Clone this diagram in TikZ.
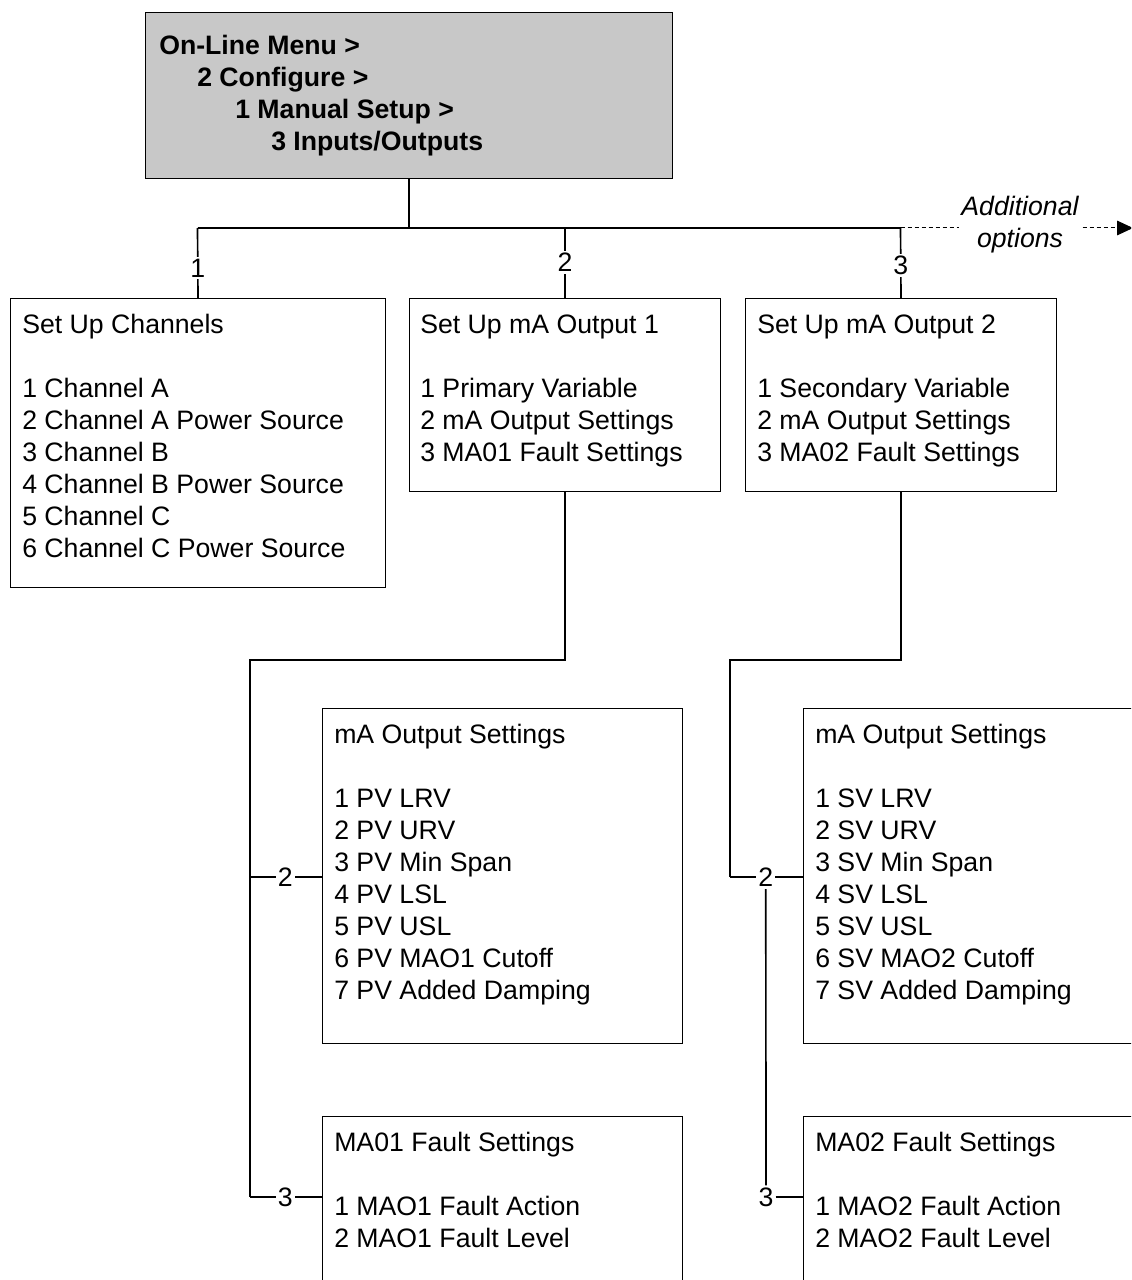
\documentclass[tikz,border=0pt]{standalone}
\usepackage{fontspec}
\setmainfont{Liberation Sans}
\usetikzlibrary{arrows.meta}
\definecolor{menugray}{RGB}{200,200,200}
\begin{document}
\begin{tikzpicture}[x=0.75pt,y=-0.75pt,
  box/.style={draw, line width=0.75pt, inner sep=0pt, anchor=north west},
  txt/.style={anchor=north west, inner sep=0pt, align=left, font=\fontsize{20}{24}\selectfont},
  conn/.style={line width=1.25pt},
  lbl/.style={fill=white, inner sep=1.5pt, font=\fontsize{20}{24}\selectfont},
  addl/.style={fill=white, inner sep=2pt, align=center, font=\fontsize{20}{24}\selectfont\itshape}]
\clip (0,0) rectangle (1131,1280);
\fill[white] (0,0) rectangle (1131,1280);

% boxes
\node[box, fill=menugray, minimum width=395.25pt, minimum height=124.5pt] (menu) at (145,12) {};
\node[box, minimum width=281.25pt, minimum height=216.75pt] (b1) at (10,298) {};
\node[box, minimum width=233.25pt, minimum height=144.75pt] (b2) at (409,298) {};
\node[box, minimum width=233.25pt, minimum height=144.75pt] (b3) at (745,298) {};
\node[box, minimum width=270pt, minimum height=251.25pt] (b4) at (322,708) {};
\node[box, minimum width=300pt, minimum height=251.25pt] (b5) at (803,708) {};
\node[box, minimum width=270pt, minimum height=150pt] (b6) at (322,1116) {};
\node[box, minimum width=300pt, minimum height=150pt] (b7) at (803,1116) {};

% texts
\node[txt, font=\fontsize{20}{24}\selectfont\bfseries] (tmenu) at (159,32)
  {\strut On-Line Menu >\\
   \hspace*{28.5pt}2 Configure >\\
   \hspace*{57pt}1 Manual Setup >\\
   \hspace*{84pt}3 Inputs/Outputs};
\node[txt] (t1) at (22,311.3)
  {\strut Set Up Channels\\[24pt]
   1 Channel A\\
   2 Channel A Power Source\\
   3 Channel B\\
   4 Channel B Power Source\\
   5 Channel C\\
   6 Channel C Power Source};
\node[txt] (t2) at (420,311.3)
  {\strut Set Up mA Output 1\\[24pt]
   1 Primary Variable\\
   2 mA Output Settings\\
   3 MA01 Fault Settings};
\node[txt] (t3) at (757,311.3)
  {\strut Set Up mA Output 2\\[24pt]
   1 Secondary Variable\\
   2 mA Output Settings\\
   3 MA02 Fault Settings};
\node[txt] (t4) at (334,721.3)
  {\strut mA Output Settings\\[24pt]
   1 PV LRV\\
   2 PV URV\\
   3 PV Min Span\\
   4 PV LSL\\
   5 PV USL\\
   6 PV MAO1 Cutoff\\
   7 PV Added Damping};
\node[txt] (t5) at (815,721.3)
  {\strut mA Output Settings\\[24pt]
   1 SV LRV\\
   2 SV URV\\
   3 SV Min Span\\
   4 SV LSL\\
   5 SV USL\\
   6 SV MAO2 Cutoff\\
   7 SV Added Damping};
\node[txt] (t6) at (334,1129.3)
  {\strut MA01 Fault Settings\\[24pt]
   1 MAO1 Fault Action\\
   2 MAO1 Fault Level};
\node[txt] (t7) at (815,1129.3)
  {\strut MA02 Fault Settings\\[24pt]
   1 MAO2 Fault Action\\
   2 MAO2 Fault Level};

% top tree
\coordinate (hl) at (197.5,228);
\coordinate (hr) at (900.5,228);
\coordinate (aend) at (1133,228);
\draw[conn] (menu.south) -- (menu.south |- hl);
\draw[conn] (hl) -- (hr);
\draw[conn] (hl) -- (b1.north) node[lbl, pos=0.57] (n1) {1};
\draw[conn] (b2.north |- hl) -- (b2.north) node[lbl, pos=0.49] (n2) {2};
\draw[conn] (hr) -- (b3.north) node[lbl, pos=0.53] (n3) {3};
\draw[line width=0.75pt, dash pattern=on 3pt off 2.25pt, -{Triangle[length=12pt,width=11pt]}] (hr) -- (aend);
\node[addl] (addopt) at (1020,225) {Additional\\options};

% lower left tree
\coordinate (tl) at (250,660);
\coordinate (ml2) at (250,877);
\coordinate (ml3) at (250,1197);
\draw[conn] (b2.south) |- (tl) -- (ml3);
\draw[conn] (ml2) -- (ml2 -| b4.west) node[lbl, pos=0.49] (l2) {2};
\draw[conn] (ml3) -- (ml3 -| b6.west) node[lbl, pos=0.49] (l3) {3};

% lower right tree
\coordinate (tr) at (730,660);
\coordinate (mr2) at (730,877);
\draw[conn] (b3.south) |- (tr) -- (mr2);
\draw[conn] (mr2) -- (mr2 -| b5.west) node[lbl, pos=0.49] (r2) {2};
\node[lbl] (r3) at (766,1197) {3};
\draw[conn] (r2.south) -- (r3.north);
\draw[conn] (r3.east) -- (r3.east -| b7.west);
\end{tikzpicture}
\end{document}
